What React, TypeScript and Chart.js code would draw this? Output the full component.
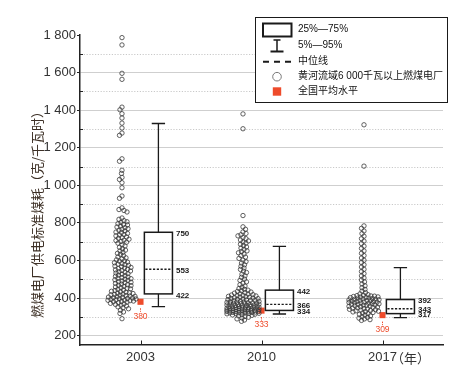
import React, { useEffect, useRef } from 'react';
import { Chart, registerables } from 'chart.js';

Chart.register(...registerables);

// ---------------- data ----------------
const years = ['2003', '2010', '2017'];
const yearUnit = '（年）';
const p5 = [354, 315, 296];
const q1 = [422, 334, 317];
const median = [553, 366, 343];
const q3 = [750, 442, 392];
const p95 = [1329, 675, 562];
const nationalAverage = [380, 333, 309];
const yTickValues = [200, 300, 400, 500, 600, 700, 800, 900, 1000, 1100, 1200, 1300, 1400, 1500, 1600, 1700, 1800];
const yAxisTitle = '燃煤电厂供电标准煤耗（克/千瓦时）';
const legendLabels = ['25%—75%', '5%—95%', '中位线', '黄河流域6 000千瓦以上燃煤电厂', '全国平均水平'];

const plants2003 = [
  1786, 1747, 1596, 1564, 1416, 1402, 1381, 1358, 1331, 1305, 1278, 1266,
  1141, 1128, 1080, 1063, 1042, 1031, 1014, 987, 943, 931,
  880, 871, 866, 858,
  826, 819, 812, 806, 802, 796, 791, 789, 783, 778, 775, 769, 766, 760, 757, 751, 749, 744, 738, 735,
  731, 725, 722, 718, 713, 708, 706, 701, 697,
  692, 683, 677, 670, 662, 655, 651, 643, 638, 632, 626, 619, 614, 609, 603,
  598, 596, 591, 588, 584, 580, 578, 574, 570, 567, 563, 560, 557, 553, 550, 547, 544, 540, 537, 533,
  530, 527, 522, 519, 516, 512, 509, 505, 503, 500,
  497, 494, 491, 487, 484, 482, 478, 474, 471, 468, 466, 462, 459, 455, 452, 449, 446, 443, 440, 436,
  433, 431, 428, 426, 424, 421,
  419, 417, 415, 413, 411, 409, 407, 405, 403, 402, 400, 398, 396, 395, 393, 391, 389, 388, 386, 384,
  382, 380, 378, 375, 372, 369, 366, 362, 358, 353, 348, 343,
  335, 326, 318, 290,
];

const plants2010 = [
  1380, 1301, 839, 779, 766, 752, 744, 737, 731, 722, 716, 709, 704, 698, 692, 686, 679, 672, 666, 659,
  651, 647, 641, 634, 626, 618, 611, 602, 594, 586, 577, 569, 560, 552, 543, 536, 527, 518, 510, 501,
  494, 486, 479, 471, 464, 457, 451,
  446, 442, 439, 435, 432, 429, 426, 423, 421,
  418, 416, 414, 413, 411, 409, 407, 405, 404, 402, 400, 398, 397, 395, 393, 392, 390, 388, 387, 385,
  383, 382, 380,
  379, 378, 377, 375, 374, 373, 372, 370, 369, 368, 367, 366, 365, 363, 362, 361, 360, 359, 358, 357,
  356, 355, 354, 352, 351, 350, 349, 348, 347, 346, 345, 344, 343, 342, 341, 340,
  339, 338, 337, 336, 336, 335, 334, 333, 332, 331, 330, 329, 328, 328, 327, 326, 325, 324, 323, 322,
  321, 320, 319, 318, 317, 316, 314, 312, 310, 308, 305, 302, 298,
  294, 289, 283, 276,
];

const plants2017 = [
  1322, 1102, 784, 771, 757, 743, 729, 716, 703, 690, 676, 664, 651, 638, 626, 613, 601, 589, 577, 565,
  553, 541, 530, 518, 507, 496, 486, 475, 465, 455, 446, 437, 429, 422,
  418, 415, 413, 411, 410, 408, 406, 405, 403, 402, 400, 399, 397, 396, 394, 393, 391, 390, 388, 387,
  385, 384, 382, 381, 379, 378, 376, 375, 373, 372, 370, 369, 367, 366, 364, 362, 361, 359, 357, 356,
  354, 352, 350, 348, 346, 344, 342, 340, 338, 336, 334, 332, 330, 328, 326, 323, 320,
  317, 313, 309, 305, 301, 297, 293, 289, 285, 281,
];

const plantsByYear = [plants2003, plants2010, plants2017];

// ---------------- styling ----------------
const RED = '#ee4b2b';
const INK = '#1a1a1a';
const SANS = "'Liberation Sans', Arial, sans-serif";
const MIXED = "'Liberation Sans', 'Noto Sans CJK SC', sans-serif";
const CJK = "'Noto Sans CJK SC', sans-serif";
const SWARM_SHIFT = -0.153;
const BOX_SHIFT = 0.148;
const BOX_HALF = 0.116;
const CAP_HALF = 0.055;
const X_LABEL_PAD = 5;

function fmtThousands(v: number): string {
  const s = String(v);
  return s.length > 3 ? s.slice(0, -3) + ' ' + s.slice(-3) : s;
}

// Beeswarm layout (pixel space): offsets so circles overlap little, capped width.
function swarm(ys: number[], minDist: number, maxHalf: number): number[] {
  const order = ys.map((_, i) => i).sort((a, b) => ys[a] - ys[b]);
  const placed: { x: number; y: number }[] = [];
  const res = new Array(ys.length).fill(0);
  let flip = 1;
  for (const i of order) {
    const y = ys[i];
    const near = placed.filter((p) => Math.abs(p.y - y) < minDist);
    const cands: number[] = [0];
    for (let d = 0.5; d <= maxHalf; d += 0.5) cands.push(d * flip, -d * flip);
    flip = -flip;
    let best = 0;
    let bestPen = Infinity;
    for (const dx of cands) {
      let pen = 0;
      for (const p of near) {
        const dd = Math.hypot(p.x - dx, p.y - y);
        if (dd < minDist) pen += minDist - dd;
      }
      if (pen === 0) { best = dx; bestPen = 0; break; }
      if (pen < bestPen - 1e-9) { bestPen = pen; best = dx; }
    }
    res[i] = best;
    placed.push({ x: best, y });
  }
  return res;
}

const overlayPlugin = {
  id: 'overlay',
  beforeDatasetsDraw(chart: any) {
    const { ctx, chartArea, scales } = chart;
    const ys = scales.y;
    ctx.save();
    ctx.strokeStyle = '#c9c9c9';
    ctx.lineWidth = 1;
    ctx.setLineDash([1.2, 1.6]);
    for (const v of yTickValues) {
      if (v % 200 === 0) continue;
      const y = Math.round(ys.getPixelForValue(v)) + 0.5;
      ctx.beginPath();
      ctx.moveTo(chartArea.left + 1, y);
      ctx.lineTo(chartArea.right, y);
      ctx.stroke();
    }
    ctx.restore();
  },
  afterDatasetsDraw(chart: any) {
    const { ctx, chartArea, scales } = chart;
    const xs = scales.x;
    const ys = scales.y;
    ctx.save();
    // minor inward y ticks
    ctx.strokeStyle = '#222';
    ctx.lineWidth = 1;
    for (const v of yTickValues) {
      if (v % 200 === 0) continue;
      const y = Math.round(ys.getPixelForValue(v)) + 0.5;
      ctx.beginPath();
      ctx.moveTo(chartArea.left, y);
      ctx.lineTo(chartArea.left + 3, y);
      ctx.stroke();
    }
    // inward x ticks
    for (let i = 0; i < years.length; i++) {
      const x = Math.round(xs.getPixelForValue(i + 1)) + 0.5;
      ctx.beginPath();
      ctx.moveTo(x, chartArea.bottom);
      ctx.lineTo(x, chartArea.bottom - 4.5);
      ctx.stroke();
    }
    // box plots
    for (let i = 0; i < years.length; i++) {
      const c = i + 1 + BOX_SHIFT;
      const cx = xs.getPixelForValue(c);
      const bl = xs.getPixelForValue(c - BOX_HALF);
      const br = xs.getPixelForValue(c + BOX_HALF);
      const cl = xs.getPixelForValue(c - CAP_HALF);
      const cr = xs.getPixelForValue(c + CAP_HALF);
      const yP5 = ys.getPixelForValue(p5[i]);
      const yQ1 = ys.getPixelForValue(q1[i]);
      const yMed = ys.getPixelForValue(median[i]);
      const yQ3 = ys.getPixelForValue(q3[i]);
      const yP95 = ys.getPixelForValue(p95[i]);
      ctx.strokeStyle = INK;
      ctx.setLineDash([]);
      ctx.lineWidth = 1.3;
      ctx.beginPath();
      ctx.moveTo(cx, yP95); ctx.lineTo(cx, yQ3);
      ctx.moveTo(cx, yQ1); ctx.lineTo(cx, yP5);
      ctx.moveTo(cl, yP95); ctx.lineTo(cr, yP95);
      ctx.moveTo(cl, yP5); ctx.lineTo(cr, yP5);
      ctx.stroke();
      ctx.lineWidth = 1.5;
      ctx.strokeRect(bl, yQ3, br - bl, yQ1 - yQ3);
      ctx.setLineDash([2.2, 1.6]);
      ctx.lineWidth = 1.4;
      ctx.beginPath();
      ctx.moveTo(bl + 1, yMed); ctx.lineTo(br - 1, yMed);
      ctx.stroke();
      ctx.setLineDash([]);
      // value labels
      let l3 = yQ3 + 1.5;
      let lm = Math.max(yMed + 1.5, l3 + 5.5);
      let l1 = Math.max(yQ1 + 1.5, lm + 5);
      ctx.fillStyle = INK;
      ctx.font = `bold 8px ${SANS}`;
      ctx.textAlign = 'left';
      ctx.textBaseline = 'middle';
      ctx.fillText(String(q3[i]), br + 3.5, l3);
      ctx.fillText(String(median[i]), br + 3.5, lm);
      ctx.fillText(String(q1[i]), br + 3.5, l1);
      // national average label
      const ax = xs.getPixelForValue(i + 1);
      const ay = ys.getPixelForValue(nationalAverage[i]);
      ctx.strokeStyle = RED;
      ctx.lineWidth = 1;
      ctx.setLineDash([1.5, 1]);
      ctx.beginPath();
      ctx.moveTo(ax, ay + 6.5); ctx.lineTo(ax, ay + 10);
      ctx.stroke();
      ctx.setLineDash([]);
      ctx.fillStyle = RED;
      ctx.font = `8.5px ${SANS}`;
      ctx.textAlign = 'center';
      ctx.fillText(String(nationalAverage[i]), ax, ay + 14.5);
    }
    ctx.restore();
  },
  afterDraw(chart: any) {
    const { ctx, chartArea, scales } = chart;
    const xs = scales.x;
    ctx.save();
    // unit after last year label
    ctx.font = `13px ${SANS}`;
    const wLast = ctx.measureText(years[years.length - 1]).width;
    ctx.font = `13px ${CJK}`;
    ctx.fillStyle = '#333';
    ctx.textAlign = 'left';
    ctx.textBaseline = 'middle';
    ctx.fillText(yearUnit, xs.getPixelForValue(years.length) + wLast / 2 - 6, chartArea.bottom + X_LABEL_PAD + 7.8);
    // y axis title
    ctx.save();
    ctx.translate(36.7, 211.5);
    ctx.rotate(-Math.PI / 2);
    ctx.font = `13px ${CJK}`;
    ctx.fillStyle = '#3d3026';
    ctx.textAlign = 'center';
    ctx.textBaseline = 'middle';
    ctx.fillText(yAxisTitle, 0, 0);
    ctx.restore();
    // legend
    const L = 255.5, T = 17.5, R = 447.5, B = 102.5;
    ctx.fillStyle = '#fff';
    ctx.fillRect(L, T, R - L, B - T);
    ctx.strokeStyle = INK;
    ctx.lineWidth = 1;
    ctx.strokeRect(L, T, R - L, B - T);
    const rows = [29.5, 45.5, 61, 76, 91];
    const ix = 277;
    ctx.lineWidth = 2;
    ctx.strokeRect(263, 23.5, 28.5, 13);
    ctx.lineWidth = 1.5;
    ctx.beginPath();
    ctx.moveTo(273.5, 40); ctx.lineTo(280.5, 40);
    ctx.moveTo(ix, 40); ctx.lineTo(ix, 51);
    ctx.stroke();
    ctx.lineWidth = 2;
    ctx.beginPath();
    ctx.moveTo(270.5, 51.5); ctx.lineTo(283.5, 51.5);
    ctx.stroke();
    ctx.setLineDash([6, 5]);
    ctx.beginPath();
    ctx.moveTo(263, 61.7); ctx.lineTo(292, 61.7);
    ctx.stroke();
    ctx.setLineDash([]);
    ctx.strokeStyle = '#7a7a7a';
    ctx.lineWidth = 1;
    ctx.beginPath();
    ctx.arc(ix, 76.7, 4.3, 0, Math.PI * 2);
    ctx.stroke();
    ctx.fillStyle = RED;
    ctx.fillRect(ix - 4.2, 91.5 - 4.2, 8.4, 8.4);
    ctx.fillStyle = '#111';
    ctx.font = `10px ${MIXED}`;
    ctx.textAlign = 'left';
    ctx.textBaseline = 'middle';
    legendLabels.forEach((t, k) => ctx.fillText(t, 298, rows[k]));
    ctx.restore();
  },
};

export default function App() {
  const ref = useRef<HTMLCanvasElement | null>(null);

  useEffect(() => {
    const canvas = ref.current;
    if (!canvas) return;
    const swarmSets = plantsByYear.map((vals, i) => ({
      type: 'scatter' as const,
      data: vals.map((v) => ({ x: i + 1 + SWARM_SHIFT, y: v })),
      pointRadius: 2.2,
      pointBorderWidth: 0.8,
      pointBorderColor: '#3a3a3a',
      pointBackgroundColor: 'rgba(0,0,0,0)',
      showLine: false,
    }));
    const avgSet = {
      type: 'scatter' as const,
      data: nationalAverage.map((v, i) => ({ x: i + 1, y: v })),
      pointStyle: 'rect',
      pointRadius: 4.3,
      pointBorderWidth: 0,
      pointBackgroundColor: RED,
      pointBorderColor: RED,
      showLine: false,
    };
    const chart = new Chart(canvas, {
      type: 'scatter',
      data: { datasets: [...swarmSets, avgSet] as any },
      options: {
        animation: false,
        responsive: false,
        events: [],
        layout: { padding: { left: 0, right: 21, top: 35, bottom: 0 } },
        plugins: { legend: { display: false }, tooltip: { enabled: false } },
        scales: {
          x: {
            type: 'linear',
            min: 0.5,
            max: 3.5,
            afterBuildTicks: (s: any) => { s.ticks = years.map((_, i) => ({ value: i + 1 })); },
            afterFit: (s: any) => { s.height = 26; },
            ticks: {
              autoSkip: false,
              maxRotation: 0,
              padding: X_LABEL_PAD,
              color: '#333',
              font: { family: SANS, size: 13 },
              callback: (v: any) => years[Math.round(Number(v)) - 1] ?? '',
            },
            grid: { display: false, drawTicks: false },
            border: { display: true, color: '#222', width: 1.5 },
          },
          y: {
            type: 'linear',
            min: 150,
            max: 1800,
            afterBuildTicks: (s: any) => { s.ticks = yTickValues.map((v) => ({ value: v })); },
            afterFit: (s: any) => { s.width = 80; },
            ticks: {
              padding: 1,
              color: '#333',
              font: { family: SANS, size: 13 },
              callback: (v: any) => (Number(v) % 200 === 0 ? fmtThousands(Number(v)) : ''),
            },
            grid: {
              drawTicks: true,
              tickLength: 3,
              lineWidth: 1,
              color: (c: any) => {
                const v = c.tick ? c.tick.value : 0;
                return v % 200 === 0 && v !== 1800 ? '#cfcfcf' : 'rgba(0,0,0,0)';
              },
              tickColor: (c: any) => {
                const v = c.tick ? c.tick.value : 0;
                return v % 200 === 0 ? '#222' : 'rgba(0,0,0,0)';
              },
            },
            border: { display: true, color: '#222', width: 1.5 },
          },
        },
      },
      plugins: [overlayPlugin],
    } as any);

    // lay out the beeswarm through the chart's scales
    const xs: any = chart.scales.x;
    const ysc: any = chart.scales.y;
    const caps = [14, 16, 15];
    plantsByYear.forEach((vals, i) => {
      const center = i + 1 + SWARM_SHIFT;
      const cpx = xs.getPixelForValue(center);
      const pys = vals.map((v) => ysc.getPixelForValue(v));
      const offs = swarm(pys, 3.2, caps[i]);
      (chart.data.datasets[i] as any).data = vals.map((v, k) => ({ x: xs.getValueForPixel(cpx + offs[k]), y: v }));
    });
    chart.update('none');

    return () => chart.destroy();
  }, []);

  return (
    <div style={{ position: 'fixed', left: 0, top: 0, width: 464, height: 371, background: '#fff' }}>
      <canvas ref={ref} width={464} height={371} style={{ width: 464, height: 371, display: 'block' }} />
    </div>
  );
}
